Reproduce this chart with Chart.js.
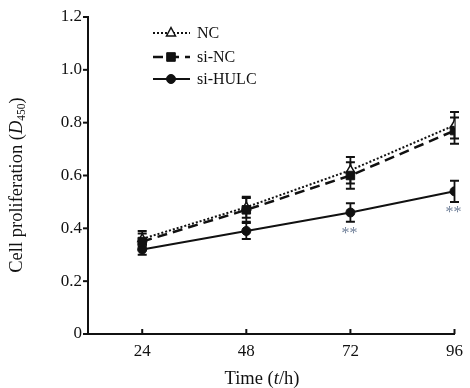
<!DOCTYPE html>
<html><head><meta charset="utf-8">
<script src="https://cdn.jsdelivr.net/npm/chart.js@4"></script>
<style>html,body{margin:0;padding:0;background:#fff}canvas{display:block}</style>
</head><body>
<canvas id="c" width="470" height="388"></canvas>
<script>
const timePoints = [24, 48, 72, 96];
const seriesNames = ["NC", "si-NC", "si-HULC"];
const ncValues = [0.36, 0.48, 0.62, 0.79];
const ncErrors = [0.03, 0.04, 0.05, 0.05];
const siNcValues = [0.35, 0.47, 0.60, 0.77];
const siNcErrors = [0.03, 0.045, 0.05, 0.05];
const siHulcValues = [0.32, 0.39, 0.46, 0.54];
const siHulcErrors = [0.02, 0.03, 0.035, 0.04];
const significance = ["", "", "**", "**"];
const yTickValues = [0, 0.2, 0.4, 0.6, 0.8, 1.0, 1.2];
const xTickValues = [24, 48, 72, 96];

const SERIF = '"Liberation Serif", "Times New Roman", serif';
const INK = '#111';

function toPoints(vals){ return timePoints.map((t,i)=>({x:t, y:vals[i]})); }

const datasets = [
  {label: seriesNames[0], data: toPoints(ncValues), errors: ncErrors, borderColor: INK, borderWidth: 2, borderDash:[2,2],
   pointStyle:'triangle', pointRadius:5, pointBackgroundColor:'#fff', pointBorderColor: INK, pointBorderWidth:1.5, order:3},
  {label: seriesNames[1], data: toPoints(siNcValues), errors: siNcErrors, borderColor: INK, borderWidth: 2.5, borderDash:[10,6],
   pointStyle:'rect', pointRadius:6, pointBackgroundColor: INK, pointBorderColor: INK, pointBorderWidth:1, order:1},
  {label: seriesNames[2], data: toPoints(siHulcValues), errors: siHulcErrors, borderColor: INK, borderWidth: 2, borderDash:[],
   pointStyle:'circle', pointRadius:4.5, pointBackgroundColor: INK, pointBorderColor: INK, pointBorderWidth:1, order:2}
];

function drawRich(ctx, parts, x, y, align){
  const size = 18.5;
  let total = 0;
  const measured = parts.map(p=>{
    const fs = p.sub ? size*0.62 : size;
    ctx.font = (p.italic?'italic ':'') + fs + 'px ' + SERIF;
    const w = ctx.measureText(p.t).width;
    total += w;
    return {p, fs, w};
  });
  let cx = align==='center' ? x - total/2 : x;
  ctx.textBaseline = 'alphabetic';
  ctx.textAlign = 'left';
  measured.forEach(m=>{
    ctx.font = (m.p.italic?'italic ':'') + m.fs + 'px ' + SERIF;
    ctx.fillText(m.p.t, cx, y + (m.p.sub ? 2.5 : 0));
    cx += m.w;
  });
}

const customPlugin = {
  id: 'custom',
  beforeDatasetsDraw(chart){
    const ctx = chart.ctx;
    const ys = chart.scales.y;
    ctx.save();
    ctx.strokeStyle = INK;
    chart.data.datasets.forEach((ds, di)=>{
      const meta = chart.getDatasetMeta(di);
      ds.data.forEach((pt, i)=>{
        const x = meta.data[i].x;
        const yt = ys.getPixelForValue(pt.y + ds.errors[i]);
        const yb = ys.getPixelForValue(pt.y - ds.errors[i]);
        ctx.lineWidth = 1.8;
        ctx.beginPath(); ctx.moveTo(x, yt); ctx.lineTo(x, yb); ctx.stroke();
        ctx.lineWidth = 2;
        ctx.beginPath(); ctx.moveTo(x-4.5, yt); ctx.lineTo(x+4.5, yt);
        ctx.moveTo(x-4.5, yb); ctx.lineTo(x+4.5, yb); ctx.stroke();
      });
    });
    ctx.restore();
  },
  afterDraw(chart){
    const ctx = chart.ctx;
    const xs = chart.scales.x, ys = chart.scales.y;
    const ca = chart.chartArea;
    ctx.save();
    // tick marks
    ctx.strokeStyle = INK; ctx.lineWidth = 2;
    yTickValues.forEach(v=>{
      const py = ys.getPixelForValue(v);
      ctx.beginPath(); ctx.moveTo(ca.left-5, py); ctx.lineTo(ca.left, py); ctx.stroke();
    });
    xTickValues.forEach(v=>{
      const px = xs.getPixelForValue(v);
      ctx.beginPath(); ctx.moveTo(px, ca.bottom); ctx.lineTo(px, ca.bottom-5); ctx.stroke();
    });
    // significance marks
    const hulcMeta = chart.getDatasetMeta(2);
    ctx.fillStyle = '#6f7f98';
    ctx.font = '16px ' + SERIF;
    ctx.textAlign = 'center';
    ctx.textBaseline = 'alphabetic';
    significance.forEach((s, i)=>{
      if(!s) return;
      const el = hulcMeta.data[i];
      ctx.fillText(s, el.x - 1, el.y + 26);
    });
    // legend
    const rows = [33, 57, 79];
    chart.data.datasets.forEach((ds, di)=>{
      const ry = rows[di];
      ctx.strokeStyle = INK;
      ctx.lineWidth = ds.borderWidth;
      ctx.setLineDash(ds.borderDash);
      ctx.beginPath(); ctx.moveTo(153, ry); ctx.lineTo(190, ry); ctx.stroke();
      ctx.setLineDash([]);
      ctx.fillStyle = ds.pointBackgroundColor; ctx.strokeStyle = ds.pointBorderColor; ctx.lineWidth = ds.pointBorderWidth;
      ctx.beginPath();
      if(ds.pointStyle==='triangle'){
        ctx.moveTo(171, ry-5.5); ctx.lineTo(175.5, ry+3); ctx.lineTo(166.5, ry+3); ctx.closePath();
      } else if(ds.pointStyle==='rect'){
        ctx.rect(171-4.3, ry-4.3, 8.6, 8.6);
      } else {
        ctx.arc(171, ry, 4.5, 0, Math.PI*2);
      }
      ctx.fill(); ctx.stroke();
      ctx.fillStyle = INK;
      ctx.font = '16px ' + SERIF;
      ctx.textAlign = 'left';
      ctx.textBaseline = 'middle';
      ctx.fillText(ds.label, 197, ry + 1);
    });
    // axis titles
    ctx.fillStyle = INK;
    drawRich(ctx, [{t:'Time ('},{t:'t', italic:true},{t:'/h)'}], 262, 384, 'center');
    ctx.translate(22, 185);
    ctx.rotate(-Math.PI/2);
    drawRich(ctx, [{t:'Cell proliferation ('},{t:'D', italic:true},{t:'450', sub:true},{t:')'}], 0, 0, 'center');
    ctx.restore();
  }
};

new Chart(document.getElementById('c'), {
  type: 'line',
  data: { datasets },
  options: {
    responsive: false,
    devicePixelRatio: 1,
    animation: false,
    layout: { padding: { left: 0, right: 12, top: 17, bottom: 0 } },
    plugins: { legend: { display: false }, tooltip: { enabled: false } },
    scales: {
      x: {
        type: 'linear', min: 11.5, max: 96,
        afterBuildTicks: s => { s.ticks = xTickValues.map(v=>({value:v})); },
        afterFit: s => { s.height = 54; },
        grid: { display: false, drawTicks: false },
        border: { display: true, color: INK, width: 2 },
        ticks: { color: INK, font: { family: SERIF, size: 17 }, padding: 7, maxRotation: 0 }
      },
      y: {
        min: 0, max: 1.2,
        afterBuildTicks: s => { s.ticks = yTickValues.map(v=>({value:v})); },
        afterFit: s => { s.width = 88; },
        grid: { display: false, drawTicks: false },
        border: { display: true, color: INK, width: 2 },
        ticks: { color: INK, font: { family: SERIF, size: 17 }, padding: 6,
          callback: v => v === 0 ? '0' : v.toFixed(1) }
      }
    }
  },
  plugins: [customPlugin]
});
</script>
</body></html>
